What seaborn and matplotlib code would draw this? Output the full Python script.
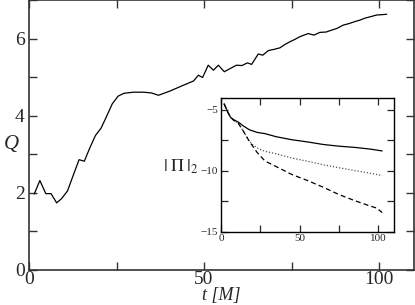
import numpy as np
import pandas as pd
import matplotlib
matplotlib.use("Agg")
import matplotlib.pyplot as plt
from matplotlib.ticker import MultipleLocator
import seaborn as sns

# Main curve Q(t)
t_main = [1.5, 3.1, 4.8, 6.3, 7.9, 9.3, 11, 12.7, 14.3, 15.8, 17.4, 19, 20.6, 22.2, 23.8,
          25.5, 27.1, 29.8, 32.7, 35, 37, 40.3, 44.1, 47, 48.4, 49.6, 51.2, 52.7, 54.1,
          55.8, 57.4, 59.3, 60.8, 62.4, 63.6, 65.5, 66.8, 68.4, 70, 71.7, 73, 74.6, 76,
          77.4, 79.8, 81.4, 83.1, 84.9, 86.5, 87.9, 89.8, 91.5, 93.1, 94.6, 96, 97.7,
          99.3, 100.8, 102.2]
q_main = [1.97, 2.32, 1.98, 1.98, 1.74, 1.85, 2.05, 2.47, 2.86, 2.82, 3.17, 3.49, 3.68,
          3.99, 4.31, 4.51, 4.58, 4.61, 4.61, 4.59, 4.53, 4.64, 4.79, 4.9, 5.05, 4.99,
          5.31, 5.18, 5.31, 5.14, 5.22, 5.31, 5.30, 5.37, 5.33, 5.6, 5.57, 5.69, 5.72,
          5.76, 5.84, 5.92, 5.98, 6.05, 6.13, 6.09, 6.16, 6.17, 6.22, 6.26, 6.35, 6.39,
          6.44, 6.48, 6.53, 6.57, 6.61, 6.62, 6.63]

# Inset curves |Pi|_2
t_solid = [2, 4, 6, 8, 11, 14, 18, 23, 28, 35, 45, 55, 65, 75, 85, 95, 102.5]
y_solid = [-4.5, -5.1, -5.6, -5.8, -6.0, -6.3, -6.63, -6.85, -6.95, -7.2, -7.45, -7.63,
           -7.84, -7.98, -8.08, -8.22, -8.37]
t_dotted = [2, 4, 6, 8, 11, 14, 17.4, 20, 24, 28, 35, 45, 55, 65, 75, 85, 95, 102.5]
y_dotted = [-4.5, -5.1, -5.6, -5.85, -6.1, -6.7, -7.45, -7.85, -8.2, -8.4, -8.6, -8.95,
            -9.22, -9.5, -9.75, -9.98, -10.2, -10.39]
t_dashed = [2, 4, 6, 8, 11, 14, 17.4, 20, 23, 28, 35, 45, 55, 65, 75, 85, 95, 99, 102.5]
y_dashed = [-4.5, -5.1, -5.6, -5.85, -6.1, -6.7, -7.45, -7.95, -8.5, -9.2, -9.65, -10.3,
            -10.8, -11.35, -11.95, -12.45, -12.9, -13.06, -13.43]

sns.set_style("ticks")
plt.rcParams['font.family'] = ['Liberation Serif', 'DejaVu Serif']
plt.rcParams['mathtext.fontset'] = 'stix'

fig = plt.figure(figsize=(4.15, 3.05), dpi=100)
ax = fig.add_axes([29/415, 1 - 270/305, 385/415, 270/305])

sns.lineplot(x=t_main, y=q_main, ax=ax, color='black', linewidth=0.9, sort=False)
ax.set_xlim(0, 110)
ax.set_ylim(0, 7)
ax.xaxis.set_major_locator(MultipleLocator(50))
ax.xaxis.set_minor_locator(MultipleLocator(25))
ax.yaxis.set_major_locator(MultipleLocator(2))
ax.yaxis.set_minor_locator(MultipleLocator(1))
ax.tick_params(which='both', direction='in', top=True, right=True, labelsize=14,
               width=1.0, color='#333333', length=6)
ax.tick_params(axis='x', pad=1)
ax.tick_params(axis='y', pad=3)
for s in ax.spines.values():
    s.set_linewidth(1.2)
    s.set_color('#333333')
ax.set_xlabel('t [M]', fontsize=13, style='italic', labelpad=-1)
ax.set_ylabel('Q', fontsize=15, style='italic', rotation=0)
ax.yaxis.set_label_coords(-0.045, 0.43)

axi = fig.add_axes([221/415, 1 - 231.7/305, 173/415, 134/305])
df = pd.DataFrame({'t': t_solid, 'y': y_solid})
sns.lineplot(data=df, x='t', y='y', ax=axi, color='black', linewidth=0.9)
sns.lineplot(x=t_dotted, y=y_dotted, ax=axi, color='#555555', linewidth=0.9,
             linestyle=(0, (1, 1.5)))
sns.lineplot(x=t_dashed, y=y_dashed, ax=axi, color='black', linewidth=0.9,
             linestyle=(0, (4, 2.5)))
axi.set_xlim(0, 110)
axi.set_ylim(-15, -4)
axi.xaxis.set_major_locator(MultipleLocator(50))
axi.xaxis.set_minor_locator(MultipleLocator(25))
axi.yaxis.set_major_locator(MultipleLocator(5))
axi.yaxis.set_minor_locator(MultipleLocator(2.5))
axi.tick_params(which='both', direction='in', top=True, right=True, labelsize=8,
                width=0.9, length=5, pad=2)
for s in axi.spines.values():
    s.set_linewidth(1.0)
    s.set_color('black')
axi.set_xlabel('')
axi.set_ylabel('')
fig.text(163/415, 1 - 167/305, r'$|\;\Pi\;|_2$', fontsize=13, va='center', ha='left')

fig.savefig('out.png', dpi=100)
